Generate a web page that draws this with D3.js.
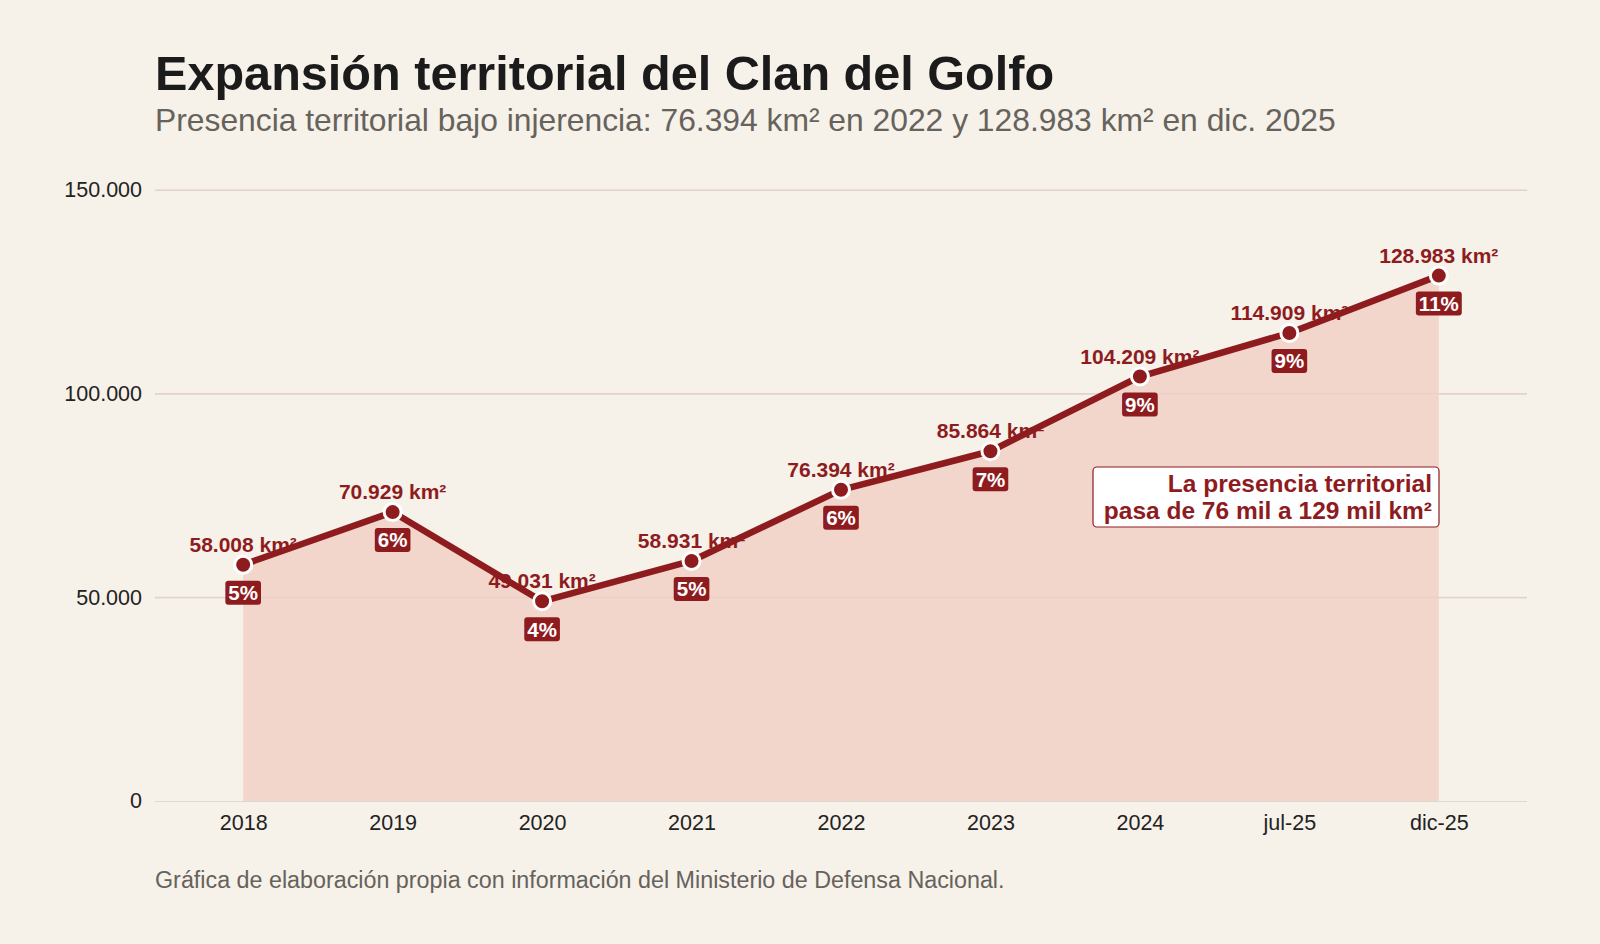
<!DOCTYPE html>
<html>
<head>
<meta charset="utf-8">
<script src="https://cdn.jsdelivr.net/npm/d3@7"></script>
<style>
  html, body { margin: 0; padding: 0; background: #f6f1e9; }
  svg { display: block; font-family: "Liberation Sans", Arial, sans-serif; }
</style>
</head>
<body>
<svg id="chart"></svg>
<script>
const periods = ["2018", "2019", "2020", "2021", "2022", "2023", "2024", "jul-25", "dic-25"];
const areaKm2 = [58008, 70929, 49031, 58931, 76394, 85864, 104209, 114909, 128983];
const sharePct = [5, 6, 4, 5, 6, 7, 9, 9, 11];
const yTicks = [0, 50000, 100000, 150000];

const width = 1600, height = 944;
const margin = { top: 190, right: 73, bottom: 143, left: 155 };
const red = "#8e1c1f";

const fmt = d3.formatLocale({ decimal: ",", thousands: ".", grouping: [3], currency: ["", ""] }).format(",d");

const data = periods.map((p, i) => ({ period: p, value: areaKm2[i], pct: sharePct[i] }));

const svg = d3.select("#chart").attr("width", width).attr("height", height);

svg.append("rect").attr("width", width).attr("height", height).attr("fill", "#f6f1e9");

const x = d3.scalePoint()
  .domain(periods)
  .range([margin.left, width - margin.right])
  .padding(0.59);

const y = d3.scaleLinear()
  .domain([0, 150000])
  .range([height - margin.bottom, margin.top]);

// titles
svg.append("text")
  .attr("x", 155).attr("y", 90)
  .attr("font-size", 48.6).attr("font-weight", "bold").attr("fill", "#1b1b1b")
  .text("Expansión territorial del Clan del Golfo");

svg.append("text")
  .attr("x", 155).attr("y", 131)
  .attr("font-size", 31.8).attr("fill", "#66625c")
  .text("Presencia territorial bajo injerencia: 76.394 km² en 2022 y 128.983 km² en dic. 2025");

// grid + y axis
const yAxis = svg.append("g")
  .attr("transform", `translate(${margin.left},0)`)
  .call(d3.axisLeft(y).tickValues(yTicks).tickFormat(fmt).tickSize(-(width - margin.left - margin.right)).tickPadding(13));
yAxis.select(".domain").remove();
yAxis.selectAll(".tick line").attr("stroke", "#dcd7d0").attr("stroke-width", 1.2);
yAxis.selectAll(".tick text").attr("font-size", 21.5).attr("fill", "#222")
  .attr("font-family", "Liberation Sans, Arial, sans-serif");

// area
const area = d3.area()
  .x(d => x(d.period))
  .y0(y(0))
  .y1(d => y(d.value));

svg.append("path")
  .datum(data)
  .attr("d", area)
  .attr("fill", "#f2d6cc");

// redraw gridlines faintly over the area
svg.append("g")
  .selectAll("line")
  .data(yTicks.filter(d => d > 0))
  .join("line")
  .attr("x1", margin.left).attr("x2", width - margin.right)
  .attr("y1", d => y(d)).attr("y2", d => y(d))
  .attr("stroke", "#e6cfc6").attr("stroke-width", 1);

// x axis labels
const xAxis = svg.append("g")
  .attr("transform", `translate(0,${height - margin.bottom})`)
  .call(d3.axisBottom(x).tickSize(0).tickPadding(14));
xAxis.select(".domain").remove();
xAxis.selectAll(".tick text").attr("font-size", 21.5).attr("fill", "#222")
  .attr("font-family", "Liberation Sans, Arial, sans-serif");

// line
const line = d3.line()
  .x(d => x(d.period))
  .y(d => y(d.value));

svg.append("path")
  .datum(data)
  .attr("d", line)
  .attr("fill", "none")
  .attr("stroke", red)
  .attr("stroke-width", 6.5)
  .attr("stroke-linejoin", "round");

// value labels
svg.append("g")
  .selectAll("text")
  .data(data)
  .join("text")
  .attr("x", d => x(d.period))
  .attr("y", d => y(d.value) - 13)
  .attr("text-anchor", "middle")
  .attr("font-size", 21)
  .attr("font-weight", "bold")
  .attr("fill", red)
  .text(d => `${fmt(d.value)} km²`);

// dots
svg.append("g")
  .selectAll("circle")
  .data(data)
  .join("circle")
  .attr("cx", d => x(d.period))
  .attr("cy", d => y(d.value))
  .attr("r", 8.5)
  .attr("fill", red)
  .attr("stroke", "#fff")
  .attr("stroke-width", 3);

// percentage badges
const badges = svg.append("g")
  .selectAll("g")
  .data(data)
  .join("g")
  .attr("transform", d => `translate(${x(d.period)},${y(d.value) + 28})`);

badges.append("rect").attr("rx", 3).attr("fill", red);

badges.append("text")
  .attr("text-anchor", "middle")
  .attr("dy", "0.36em")
  .attr("font-size", 20.5)
  .attr("font-weight", "bold")
  .attr("fill", "#fff")
  .text(d => `${d.pct}%`)
  .each(function () {
    const b = this.getBBox();
    d3.select(this.parentNode).select("rect")
      .attr("x", -b.width / 2 - 3)
      .attr("width", b.width + 6)
      .attr("y", -12)
      .attr("height", 24);
  });

// annotation
const note = svg.append("g");
note.append("rect")
  .attr("x", 1093).attr("y", 467)
  .attr("width", 346).attr("height", 60)
  .attr("rx", 4)
  .attr("fill", "#fff")
  .attr("stroke", red)
  .attr("stroke-width", 1.2);
note.append("text")
  .attr("x", 1432).attr("y", 492)
  .attr("text-anchor", "end")
  .attr("font-size", 24.5).attr("font-weight", "bold").attr("fill", red)
  .text("La presencia territorial");
note.append("text")
  .attr("x", 1432).attr("y", 519)
  .attr("text-anchor", "end")
  .attr("font-size", 24.5).attr("font-weight", "bold").attr("fill", red)
  .text("pasa de 76 mil a 129 mil km²");

// footer
svg.append("text")
  .attr("x", 155).attr("y", 888)
  .attr("font-size", 23.3).attr("fill", "#66625c")
  .text("Gráfica de elaboración propia con información del Ministerio de Defensa Nacional.");
</script>
</body>
</html>
